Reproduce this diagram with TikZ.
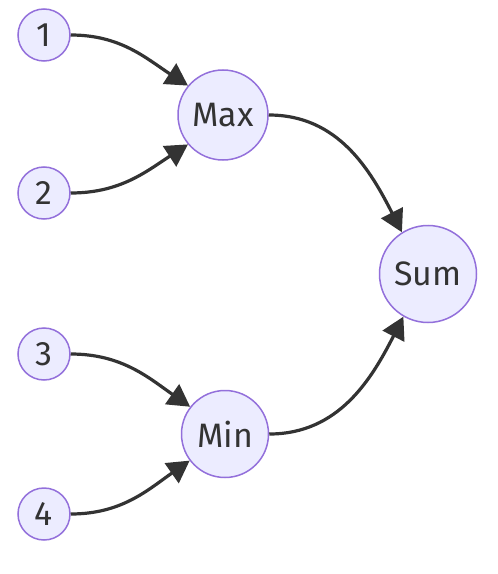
\documentclass[tikz,border=0pt]{standalone}
\usepackage{fontspec}
\setmainfont{Fira Sans}
\usepackage{xcolor}
\usetikzlibrary{arrows.meta}

\definecolor{nodefill}{HTML}{ECECFF}
\definecolor{nodeline}{HTML}{9370DB}
\definecolor{edgecol}{HTML}{333333}

\begin{document}
\begin{tikzpicture}[
    x=1bp, y=-1bp,
    leaf/.style={circle, draw=nodeline, line width=1.5bp, fill=nodefill, inner sep=0pt, minimum size=52bp, text=edgecol, font=\fontsize{34}{40}\selectfont},
    op/.style={leaf, minimum size=90bp},
    arrow/.style={-{Triangle[length=22bp, width=24bp]}, line width=3.2bp, draw=edgecol},
  ]
  \useasboundingbox (0,0) rectangle (498,574);

  % Inputs
  \node[leaf] (n1) at (44,35) {1};
  \node[leaf] (n2) at (44,193) {2};
  \node[leaf] (n3) at (44,354) {3};
  \node[leaf] (n4) at (44,514) {4};

  % Operations
  \node[op] (max) at (223,115) {Max};
  \node[op, minimum size=87bp] (min) at (225,434) {Min};
  \node[op, minimum size=97bp] (sum) at (428,274) {Sum};

  % Arrows
  \draw[arrow] (n1.east) to[out=0, in=147] (max.140);
  \draw[arrow] (n2.east) to[out=0, in=213] (max.220);
  \draw[arrow] (n3.east) to[out=0, in=145] (min.142);
  \draw[arrow] (n4.east) to[out=0, in=215] (min.217);
  \draw[arrow] (max.east) to[out=0, in=117] (sum.122);
  \draw[arrow] (min.east) to[out=0, in=243] (sum.240);

\end{tikzpicture}
\end{document}
